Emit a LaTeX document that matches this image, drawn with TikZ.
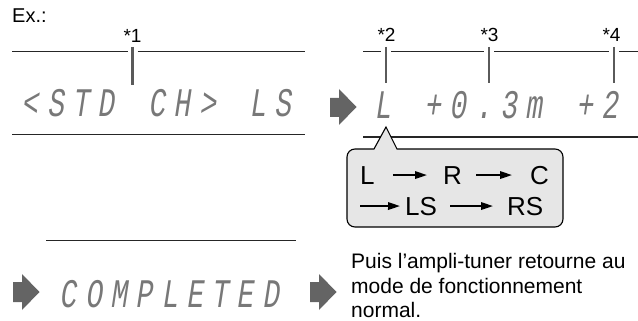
\documentclass[tikz,border=0pt]{standalone}
\usepackage{fontspec}
\usepackage{graphicx}
\setmainfont{Liberation Sans}
\newfontfamily\dmfont[FakeSlant=0.22]{Liberation Mono}
\usetikzlibrary{arrows.meta}
\definecolor{tickgray}{RGB}{90,90,90}
\definecolor{arrowgray}{RGB}{100,100,100}
\definecolor{boxgray}{RGB}{230,230,230}
\definecolor{dmgray}{RGB}{120,120,120}
\newcommand\dmloop[1]{\ifx#1\relax\else\makebox[25.3pt][c]{#1}\expandafter\dmloop\fi}
\newcommand\dmtext[1]{\scalebox{1}[1.45]{\dmfont\fontsize{28}{28}\selectfont\color{dmgray}\dmloop#1\relax}}
\tikzset{
  hline/.style={line width=1pt, draw=black!85},
  tickline/.style={line width=2.2pt, draw=tickgray},
  lbl/.style={font=\fontsize{19}{19}\selectfont, anchor=base, inner sep=0},
  dm/.style={anchor=base west, inner sep=0},
  bigarrow/.style={fill=arrowgray, draw=none},
  boxtxt/.style={font=\fontsize{26}{26}\selectfont, anchor=base west, inner sep=0},
  boxarrow/.style={line width=1.8pt, -{Triangle[length=12pt,width=7.5pt]}},
  ftxt/.style={font=\fontsize{21}{21}\selectfont, anchor=base west, inner sep=0},
  callout/.style={fill=boxgray, draw=black, line width=1.1pt}
}
\begin{document}
\begin{tikzpicture}[x=1pt,y=-1pt]
\useasboundingbox (0,0) rectangle (638,321);

\node[font=\fontsize{20}{20}\selectfont, anchor=base west, inner sep=0] (ex) at (12,23) {Ex.:};

% left display
\draw[hline] (12,52) -- (127.5,52);
\draw[hline] (137.5,52) -- (305,52);
\draw[tickline] (132.5,47) -- (132.5,85);
\node[lbl] (s1) at (132.5,43) {*1};
\node[dm] (d1) at (17.5,117) {\dmtext{<STD~CH>~LS}};
\draw[hline] (12,135) -- (305,135);

% arrow 1
\fill[bigarrow] (330,98) -- (339,98) -- (339,89) -- (356.5,107) -- (339,125) -- (339,117) -- (330,117) -- cycle;

% right display
\draw[hline] (363,52) -- (381,52);
\draw[hline] (391,52) -- (484,52);
\draw[hline] (494,52) -- (609,52);
\draw[hline] (619,52) -- (638,52);
\draw[tickline] (386,47) -- (386,83);
\draw[tickline] (489,47) -- (489,83);
\draw[tickline] (614,47) -- (614,83);
\node[lbl] (s2) at (386.5,42) {*2};
\node[lbl] (s3) at (489.5,42) {*3};
\node[lbl] (s4) at (611.5,42) {*4};
\node[dm] (d2) at (369.6,118) {\dmtext{L~+0.3m~+2}};
\draw[hline] (363,137) -- (638,137);

% callout
\draw[callout] (386,127) -- (397,149) [rounded corners=8pt] -- (563,149) -- (563,227) -- (347,227) -- (347,149) [sharp corners] -- (374,149) -- cycle;
\node[boxtxt] (bL) at (360,184) {L};
\node[boxtxt] (bR) at (443,184) {R};
\node[boxtxt] (bC) at (530,184) {C};
\coordinate (b0) at (360,206);
\node[boxtxt] (bLS) at (405,215) {LS};
\node[boxtxt] (bRS) at (507,215) {RS};
\draw[boxarrow] ([xshift=18pt]bL.east) -- ([xshift=-16pt]bR.west);
\draw[boxarrow] ([xshift=14pt]bR.east) -- ([xshift=-18pt]bC.west);
\draw[boxarrow] (b0) -- ([xshift=-5pt]bLS.west);
\draw[boxarrow] ([xshift=13pt]bLS.east) -- ([xshift=-14pt]bRS.west);

% bottom
\draw[hline] (46,240) -- (296,240);
\fill[bigarrow] (13,282) -- (22,282) -- (22,274) -- (39.5,292) -- (22,310) -- (22,302) -- (13,302) -- cycle;
\node[dm] (d3) at (55.4,307) {\dmtext{COMPLETED}};
\fill[bigarrow] (310,282) -- (319,282) -- (319,274) -- (336.5,292) -- (319,310) -- (319,302) -- (310,302) -- cycle;

\node[ftxt] (f1) at (351,268) {Puis l’ampli-tuner retourne au};
\node[ftxt] (f2) at (351,293) {mode de fonctionnement};
\node[ftxt] (f3) at (351,317.5) {normal.};
\end{tikzpicture}
\end{document}
